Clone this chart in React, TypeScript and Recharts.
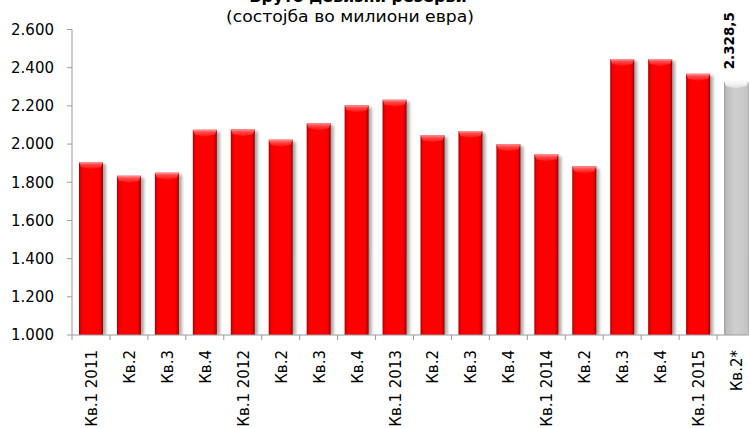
import React from 'react';
import { BarChart, Bar, XAxis, YAxis, LabelList } from 'recharts';

// Gross foreign exchange reserves, end of quarter, million EUR
const quarters = [
  'Кв.1 2011', 'Кв.2', 'Кв.3', 'Кв.4',
  'Кв.1 2012', 'Кв.2', 'Кв.3', 'Кв.4',
  'Кв.1 2013', 'Кв.2', 'Кв.3', 'Кв.4',
  'Кв.1 2014', 'Кв.2', 'Кв.3', 'Кв.4',
  'Кв.1 2015', 'Кв.2*',
];
const reserves = [
  1906, 1834, 1850, 2075,
  2077, 2023, 2109, 2203,
  2232, 2046, 2068, 1999,
  1946, 1883, 2445, 2445,
  2368, 2328.5,
];
const yTicks = [1000, 1200, 1400, 1600, 1800, 2000, 2200, 2400, 2600];
// the latest quarter is a preliminary figure, drawn in gray and labelled
const preliminaryIndex = 17;

const data = quarters.map((q, i) => ({ quarter: q, value: reserves[i] }));

const FONT = '"DejaVu Sans", Verdana, sans-serif';
const AXIS_GRAY = '#9a9a9a';

const fmtNumber = (v: number) => {
  const [intPart, decPart] = String(v).split('.');
  const grouped = intPart.replace(/\B(?=(\d{3})+(?!\d))/g, '.');
  return decPart ? `${grouped},${decPart}` : grouped;
};

const BevelBar = (props: any) => {
  const { x, y, width, height, index } = props;
  if (height <= 0) return null;
  const kind = index === preliminaryIndex ? 'gray' : 'red';
  const top = `${x},${y} ${x + width},${y} ${x + width - 2},${y + 5} ${x + width / 2},${y + 7} ${x + 2},${y + 5}`;
  return (
    <g>
      <rect
        x={x + 3}
        y={y + 2}
        width={width}
        height={height - 2}
        fill="#6e6e6e"
        opacity={0.6}
        filter="url(#barShadow)"
      />
      <rect x={x} y={y} width={width} height={height} fill={`url(#side-${kind})`} />
      <polygon points={top} fill={`url(#top-${kind})`} />
    </g>
  );
};

const QuarterTick = (props: any) => {
  const { x, y, payload, index } = props;
  const half = payload && payload.offset ? payload.offset : 19;
  const axisY = y - 5;
  const label = quarters[index] ?? payload.value;
  return (
    <g>
      <line x1={x - half} y1={axisY} x2={x - half} y2={axisY + 5} stroke={AXIS_GRAY} />
      {index === quarters.length - 1 && (
        <line x1={x + half} y1={axisY} x2={x + half} y2={axisY + 5} stroke={AXIS_GRAY} />
      )}
      <text
        transform={`translate(${x + 1},${y + 10}) rotate(-90)`}
        textAnchor="end"
        dominantBaseline="central"
        fontFamily={FONT}
        fontSize={15}
        fill="#000"
      >
        {label}
      </text>
    </g>
  );
};

const renderValueLabel = (props: any) => {
  const { x, y, width, value, index } = props;
  if (index !== preliminaryIndex) return null;
  const cx = x + width / 2;
  return (
    <text
      transform={`translate(${cx - 2},${y - 12}) rotate(-90)`}
      textAnchor="start"
      fontFamily={FONT}
      fontWeight="bold"
      fontSize={13.5}
      fill="#000"
    >
      {fmtNumber(value)}
    </text>
  );
};

export default function App() {
  return (
    <div
      style={{
        position: 'absolute',
        left: 0,
        top: 0,
        width: 749,
        height: 428,
        overflow: 'hidden',
        background: '#fff',
      }}
    >
      <svg width={0} height={0} style={{ position: 'absolute' }}>
        <defs>
          <linearGradient id="side-red" x1="0" y1="0" x2="1" y2="0">
            <stop offset="0%" stopColor="#a00000" />
            <stop offset="9%" stopColor="#ee0000" />
            <stop offset="20%" stopColor="#ff0000" />
            <stop offset="84%" stopColor="#ff0000" />
            <stop offset="93%" stopColor="#d80000" />
            <stop offset="100%" stopColor="#880000" />
          </linearGradient>
          <linearGradient id="top-red" x1="0" y1="0" x2="0" y2="1">
            <stop offset="0%" stopColor="#ff9a9a" />
            <stop offset="35%" stopColor="#ff4a4a" />
            <stop offset="100%" stopColor="#ff1010" />
          </linearGradient>
          <linearGradient id="side-gray" x1="0" y1="0" x2="1" y2="0">
            <stop offset="0%" stopColor="#9a9a9a" />
            <stop offset="10%" stopColor="#bdbdbd" />
            <stop offset="45%" stopColor="#cfcfcf" />
            <stop offset="100%" stopColor="#c4c4c4" />
          </linearGradient>
          <linearGradient id="top-gray" x1="0" y1="0" x2="0" y2="1">
            <stop offset="0%" stopColor="#ffffff" />
            <stop offset="100%" stopColor="#dcdcdc" />
          </linearGradient>
          <filter id="barShadow" x="-30%" y="-10%" width="160%" height="120%">
            <feGaussianBlur stdDeviation="1.6" />
          </filter>
        </defs>
      </svg>

      <BarChart
        width={760}
        height={428}
        data={data}
        margin={{ top: 29.5, right: 5, left: 12, bottom: 0 }}
      >
        <XAxis
          dataKey="quarter"
          interval={0}
          height={93}
          tickSize={5}
          tickMargin={0}
          tickLine={false}
          axisLine={{ stroke: AXIS_GRAY }}
          tick={<QuarterTick />}
        />
        <YAxis
          type="number"
          domain={[1000, 2600]}
          ticks={yTicks}
          allowDataOverflow
          width={60}
          tickSize={5}
          tickMargin={13}
          axisLine={{ stroke: AXIS_GRAY }}
          tickLine={{ stroke: AXIS_GRAY }}
          tick={{ fill: '#000', fontSize: 15, fontFamily: FONT }}
          tickFormatter={fmtNumber}
        />
        <Bar dataKey="value" barSize={24} shape={<BevelBar />} isAnimationActive={false}>
          <LabelList dataKey="value" content={renderValueLabel} />
        </Bar>
      </BarChart>

      <svg
        width={749}
        height={428}
        style={{ position: 'absolute', left: 0, top: 0, pointerEvents: 'none' }}
      >
        <text x={358} y={2} textAnchor="middle" fontFamily={FONT} fontWeight="bold" fontSize={16} fill="#000">
          Бруто девизни резерви
        </text>
        <text
          x={350}
          y={22}
          textAnchor="middle"
          fontFamily={FONT}
          fontSize={16}
          textLength={248}
          lengthAdjust="spacingAndGlyphs"
          fill="#000"
        >
          (состојба во милиони евра)
        </text>
      </svg>
    </div>
  );
}
